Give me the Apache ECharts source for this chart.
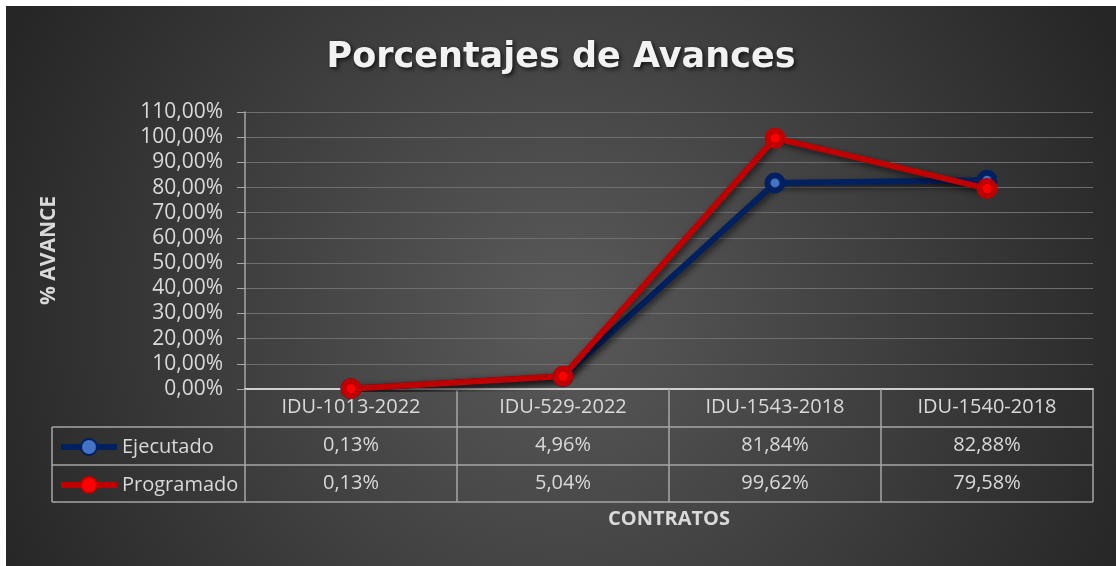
<!DOCTYPE html>
<html>
<head>
<meta charset="utf-8">
<script src="https://cdn.jsdelivr.net/npm/echarts@6/dist/echarts.min.js"></script>
<style>
  html, body { margin: 0; padding: 0; background: #fff; }
  #chart { position: absolute; left: 6px; top: 6px; width: 1110px; height: 560px; }
</style>
</head>
<body>
<div id="chart"></div>
<script>
// datos del grafico
var contratos = ['IDU-1013-2022', 'IDU-529-2022', 'IDU-1543-2018', 'IDU-1540-2018']
var ejecutado = [0.13, 4.96, 81.84, 82.88]
var programado = [0.13, 5.04, 99.62, 79.58]

function pct (v) {
  return v.toFixed(2).replace('.', ',') + '%'
}

var textColor = '#d9d9d9'
var lineColor = '#a6a6a6'
var font = 'Open Sans'

// grid (px dentro del contenedor)
var gLeft = 239, gRight = 23, gTop = 106, gBottom = 177
var W = 1110, H = 560
var axisY = H - gBottom
var rowH = 38
var tableLeft = 46

var chart = echarts.init(document.getElementById('chart'))

function hline (y) {
  return { type: 'line', shape: { x1: tableLeft, y1: y, x2: W - gRight, y2: y }, style: { stroke: lineColor, lineWidth: 1.5 } }
}

var valueAxis = function (idx, values) {
  return {
    type: 'category',
    gridIndex: 0,
    position: 'bottom',
    offset: rowH * idx,
    data: contratos,
    axisLine: { show: false },
    axisTick: { show: false },
    axisLabel: {
      color: textColor, fontFamily: font, fontSize: 20, lineHeight: 20, margin: 8,
      formatter: function (v, i) { return pct(values[i]) }
    }
  }
}

var option = {
  backgroundColor: {
    type: 'radial', x: 0.5, y: 0.55, r: 1.1,
    colorStops: [{ offset: 0, color: '#5a5a5a' }, { offset: 1, color: '#262626' }]
  },
  title: {
    text: 'Porcentajes de Avances',
    left: 'center',
    top: 29,
    textStyle: {
      color: '#f2f2f2', fontFamily: 'DejaVu Sans', fontWeight: 'bold', fontSize: 35,
      textShadowColor: 'rgba(0,0,0,0.7)', textShadowBlur: 4, textShadowOffsetX: 2, textShadowOffsetY: 2
    }
  },
  legend: {
    orient: 'vertical',
    left: 52,
    top: 431,
    padding: 0,
    itemWidth: 56,
    itemHeight: 20,
    itemGap: 18,
    data: ['Ejecutado', 'Programado'],
    lineStyle: { width: 6 },
    textStyle: { color: textColor, fontFamily: font, fontSize: 20, lineHeight: 20 }
  },
  grid: { left: gLeft, right: gRight, top: gTop, bottom: gBottom },
  xAxis: [
    {
      type: 'category',
      data: contratos,
      boundaryGap: true,
      name: 'CONTRATOS',
      nameLocation: 'middle',
      nameGap: 120,
      nameTextStyle: { color: textColor, fontFamily: font, fontWeight: 'bold', fontSize: 20 },
      axisLine: { lineStyle: { color: '#cfcfcf', width: 2 } },
      axisTick: { show: true, alignWithLabel: false, length: rowH * 3 - 1, lineStyle: { color: lineColor, width: 1.5 } },
      axisLabel: { color: textColor, fontFamily: font, fontSize: 20, lineHeight: 20, margin: 8 }
    },
    valueAxis(1, ejecutado),
    valueAxis(2, programado)
  ],
  yAxis: {
    type: 'value',
    min: 0,
    max: 110,
    interval: 10,
    name: '% AVANCE',
    nameLocation: 'middle',
    nameRotate: 90,
    nameGap: 185,
    nameTextStyle: { color: textColor, fontFamily: font, fontWeight: 'bold', fontSize: 21 },
    axisLine: { show: true, lineStyle: { color: lineColor, width: 1.5 } },
    axisTick: { show: true, length: 8, lineStyle: { color: lineColor } },
    axisLabel: { color: textColor, fontFamily: font, fontSize: 21, margin: 22, formatter: function (v) { return pct(v) } },
    splitLine: { lineStyle: { color: '#6e6e6e', width: 1 } }
  },
  series: [
    {
      name: 'Ejecutado',
      type: 'line',
      data: ejecutado,
      symbol: 'circle',
      symbolSize: 15,
      lineStyle: { color: '#002060', width: 6, shadowColor: 'rgba(0,0,0,0.6)', shadowBlur: 6, shadowOffsetX: 2, shadowOffsetY: 3 },
      itemStyle: { color: '#4472c4', borderColor: '#002060', borderWidth: 6 }
    },
    {
      name: 'Programado',
      type: 'line',
      data: programado,
      symbol: 'circle',
      symbolSize: 15,
      lineStyle: { color: '#c00000', width: 6, shadowColor: 'rgba(0,0,0,0.6)', shadowBlur: 6, shadowOffsetX: 2, shadowOffsetY: 3 },
      itemStyle: { color: '#ff0000', borderColor: '#c00000', borderWidth: 6 }
    }
  ],
  graphic: [
    hline(axisY + rowH),
    hline(axisY + rowH * 2),
    hline(axisY + rowH * 3 - 1),
    { type: 'line', shape: { x1: tableLeft, y1: axisY + rowH, x2: tableLeft, y2: axisY + rowH * 3 - 1 }, style: { stroke: lineColor, lineWidth: 1.5 } }
  ]
}

chart.setOption(option)
</script>
</body>
</html>
